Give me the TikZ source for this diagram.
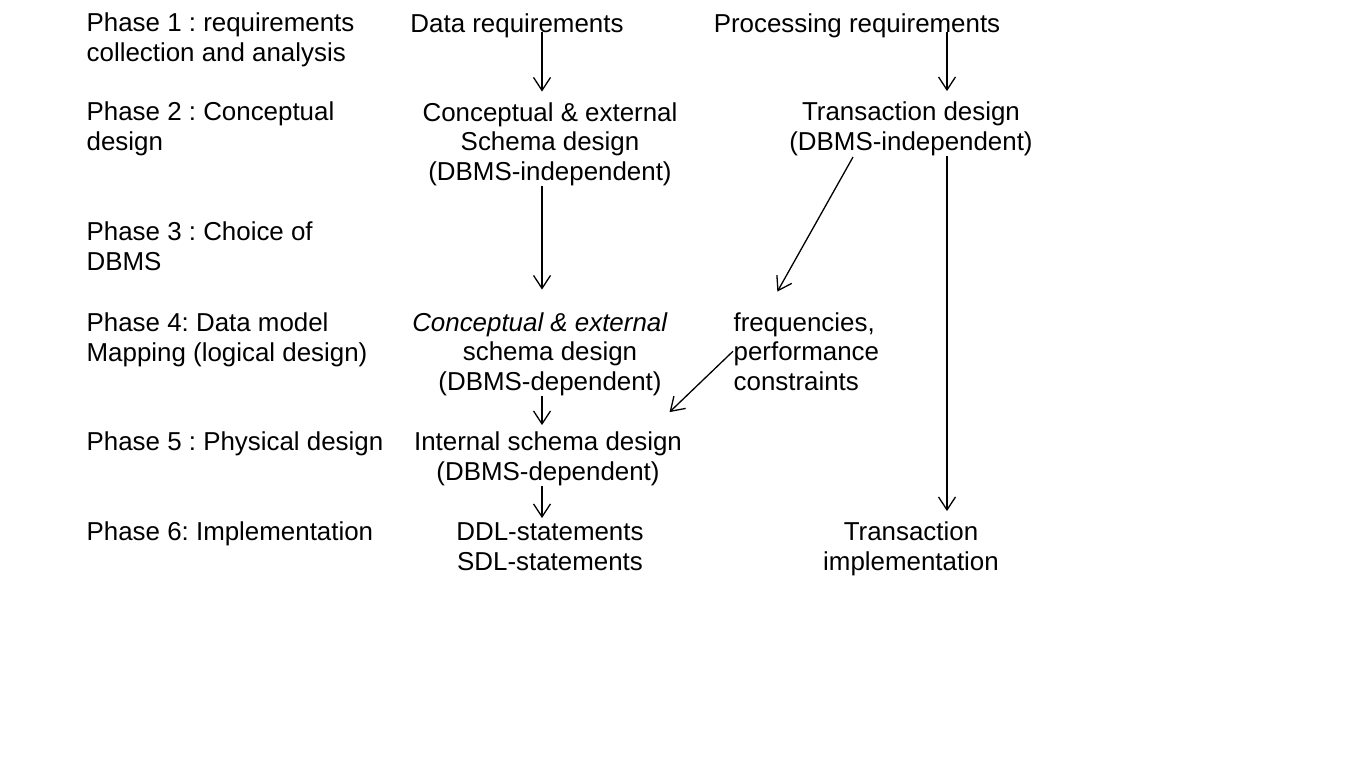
\documentclass[tikz,border=0pt]{standalone}
\usepackage{fontspec}
\setmainfont{Liberation Sans}
\usetikzlibrary{arrows.meta,calc}
\frenchspacing

\begin{document}
\begin{tikzpicture}[x=0.5pt, y=-0.5pt, line width=0.65pt, >={Straight Barb[length=6.5pt,width=8.5pt]},
  every node/.style={inner sep=0pt, font=\fontsize{12.95}{14.75}\selectfont},
  phase/.style={anchor=base west, align=left},
  stage/.style={anchor=base, align=center}]
\useasboundingbox (0,0) rectangle (1364,768);
\node[phase] (ph1) at (86,61) {Phase 1 : requirements\\collection and analysis};
\node[phase] (ph2) at (86,150) {Phase 2 : Conceptual\\design};
\node[phase] (ph3) at (86,270) {Phase 3 : Choice of\\DBMS};
\node[phase] (ph4) at (86,361) {Phase 4: Data model\\Mapping (logical design)};
\node[phase] (ph5) at (86,450) {Phase 5 : Physical design};
\node[phase] (ph6) at (86,540) {Phase 6: Implementation};
\node[stage] (data) at (517,32) {Data requirements};
\node[stage] (proc) at (857,32) {Processing requirements};
\node[stage] (concind) at (550,180) {Conceptual \& external\\Schema design\\(DBMS-independent)};
\node[stage] (trans) at (911,150) {Transaction design\\(DBMS-independent)};
\node[stage] (concdep) at (550,390) {\textit{Conceptual \& external}\hspace*{10pt}\\schema design\\(DBMS-dependent)};
\node[phase] (freq) at (733,390) {frequencies,\\performance\\constraints};
\node[stage] (internal) at (548,480) {Internal schema design\\(DBMS-dependent)};
\node[stage] (ddl) at (550,570) {DDL-statements\\SDL-statements};
\node[stage] (transimp) at (911,570) {Transaction\\implementation};
\coordinate (midline) at (542,0);
\coordinate (rline) at (947,0);
\draw[->] (data.base -| midline) -- ($(concind.north -| midline)+(0,-10)$);
\draw[->] (proc.base -| rline) -- ($(trans.north -| rline)+(0,-10)$);
\draw[->] (concind.south -| midline) -- ($(concdep.north -| midline)+(0,-22)$);
\draw[->] ($(trans.south)+(-58,1)$) -- ($(freq.north)+(-29,-20)$);
\draw[->] (trans.south -| rline) -- ($(transimp.north -| rline)+(0,-10)$);
\draw[->] (freq.west) -- ($(internal.north east)+(-13,-19)$);
\draw[->] (concdep.south -| midline) -- ($(internal.north -| midline)+(0,-6)$);
\draw[->] (internal.south -| midline) -- ($(ddl.north -| midline)+(0,-4)$);
\end{tikzpicture}
\end{document}
